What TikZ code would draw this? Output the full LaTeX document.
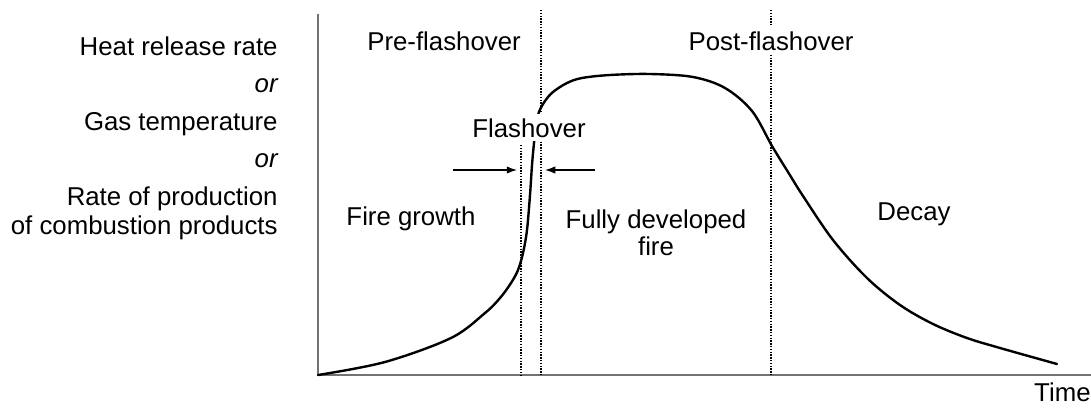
\documentclass[tikz,border=0pt]{standalone}
\usepackage{fontspec}
\setmainfont{Liberation Sans}
\usetikzlibrary{arrows.meta}
\tikzset{
    fire diagram/.style = {x=0.5pt, y=-0.5pt,
                           >={Latex[length=1.8mm, width=1.3mm]}},
    axis/.style         = {draw=black!55, line width=1.3pt},
    phase/.style        = {line width=0.7pt, dash pattern=on 0.7pt off 0.7pt},
    curve/.style        = {line width=1.2pt, line cap=round},
    txt/.style          = {font=\fontsize{12.9}{13.5}\selectfont, inner sep=0pt},
    ylab/.style         = {txt, anchor=base east},
    region/.style       = {txt, anchor=base},
    marker/.style       = {semithick, ->}
}

\begin{document}
\begin{tikzpicture}[fire diagram]
\useasboundingbox (0,0) rectangle (1091,407);

% Axes
\coordinate (origin) at (318,375);
\coordinate (ytop) at (318,14);
\coordinate (xend) at (1091,375);
\draw[axis] (ytop) -- (origin) -- (xend);

% Phase boundaries
\foreach \x/\t in {521/145, 541/10, 771/10}
    \draw[phase] (\x,\t) -- (\x,375);

% Fire curve
\draw[curve] plot[smooth, tension=0.55] coordinates {
    (318,375) (385,362) (451,338) (485,313) (500,298) (511,283)
    (518,270) (523,253) (527,230) (530,195) (532,165) (534,143)
    (536,125) (539,112) (545,101) (553,92) (567,83) (582,78)
    (610,75) (650,74) (693,77) (725,88)
    (752,111) (772,146) (788,172) (803,196) (833,240) (867,278)
    (900,305) (933,324) (967,338) (1000,348) (1057,364)};

% Flashover label with its two markers
\node[txt, fill=white, inner sep=2pt, anchor=base] (flash) at (529,137) {Flashover};
\coordinate (growth tail) at (453,170);
\coordinate (growth tip) at (517,170);
\coordinate (full tail) at (595,170);
\coordinate (full tip) at (545,170);
\draw[marker] (growth tail) -- (growth tip);
\draw[marker] (full tail) -- (full tip);

% Region labels
\node[region] (pre) at (444,50) {Pre-flashover};
\node[region, fill=white, inner sep=2pt] (post) at (771,50) {Post-flashover};
\node[region] (growth) at (411,225) {Fire growth};
\node[txt, align=center] (full) at (656,233) {Fully developed\\fire};
\node[region] (decay) at (914,220) {Decay};
\node[txt, anchor=base east] (time) at (1091,401) {Time};

% Vertical axis quantities
\node[ylab] (hrr) at (278,55) {Heat release rate};
\node[ylab] (or1) at (278,92.5) {\itshape or};
\node[ylab] (gas) at (278,130) {Gas temperature};
\node[ylab] (or2) at (278,167.5) {\itshape or};
\node[ylab] (rate) at (278,205) {Rate of production};
\node[ylab] (comb) at (278,234) {of combustion products};

\end{tikzpicture}
\end{document}
